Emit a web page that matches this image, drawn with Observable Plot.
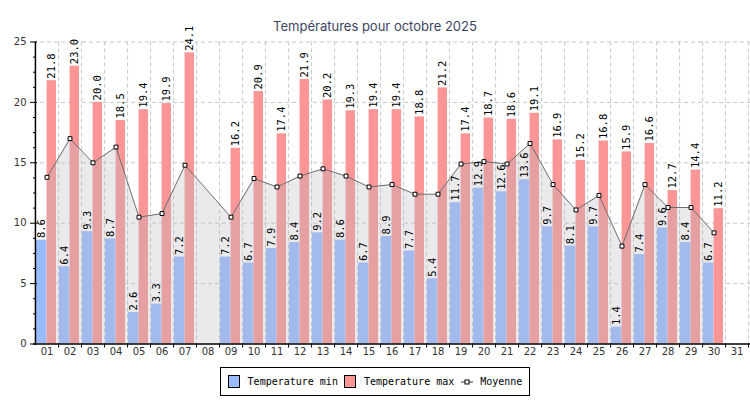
<!DOCTYPE html>
<html><head><meta charset="utf-8">
<script src="https://cdn.jsdelivr.net/npm/d3@7"></script>
<script src="https://cdn.jsdelivr.net/npm/@observablehq/plot@0.6"></script>
<style>
body{margin:0;background:#fff;width:750px;overflow:hidden;}
#title{font-family:Inter,"Noto Sans",sans-serif;font-size:13px;color:#3b4563;text-align:center;padding-top:18px;line-height:16px;height:16px;}
#chart svg{display:block;}
#legendWrap{display:flex;justify-content:center;margin-top:2px;}
#legend{border:1px solid #000;height:27px;display:flex;align-items:center;padding:0 7px;font-family:"DejaVu Sans Mono",monospace;font-size:10px;color:#000;white-space:pre;}
.sw{display:inline-block;width:10px;height:11px;border:1px solid #000;margin-right:8px;}
</style></head><body>
<div id="title">Températures pour octobre 2025</div>
<div id="chart"></div>
<div id="legendWrap"><div id="legend"></div></div>
<script>
const days = ["01","02","03","04","05","06","07","08","09","10","11","12","13","14","15","16","17","18","19","20","21","22","23","24","25","26","27","28","29","30","31"];
const tempMin = [8.6,6.4,9.3,8.7,2.6,3.3,7.2,null,7.2,6.7,7.9,8.4,9.2,8.6,6.7,8.9,7.7,5.4,11.7,12.9,12.6,13.6,9.7,8.1,9.7,1.4,7.4,9.6,8.4,6.7,null];
const tempMax = [21.8,23.0,20.0,18.5,19.4,19.9,24.1,null,16.2,20.9,17.4,21.9,20.2,19.3,19.4,19.4,18.8,21.2,17.4,18.7,18.6,19.1,16.9,15.2,16.8,15.9,16.6,12.7,14.4,11.2,null];
const moyenne = [13.8,17.0,15.0,16.3,10.5,10.8,14.8,null,10.5,13.7,13.0,13.9,14.5,13.9,13.0,13.2,12.4,12.4,14.9,15.1,14.9,16.6,13.2,11.1,12.3,8.1,13.2,11.3,11.3,9.2,null];
const yMajorTicks = [0,5,10,15,20,25];
const yMinorTicks = [1.25,2.5,3.75,6.25,7.5,8.75,11.25,12.5,13.75,16.25,17.5,18.75,21.25,22.5,23.75];
const seriesNames = ["Temperature min","Temperature max","Moyenne"];
const colMin = "#99bbff", colMax = "#fa9696";

const rows = days.map((d,i)=>({day:d, min:tempMin[i], max:tempMax[i], mean:moyenne[i]}));
const W = 750, ML = 33, MR = 0;
const bw = (W-ML-MR)/days.length;
const hasMin = d => d.min != null, hasMax = d => d.max != null, hasMean = d => d.mean != null;
const fmt = v => v == null ? null : v.toFixed(1);
const mono = "DejaVu Sans Mono";
const grid = {stroke:"#c8c8c8", strokeOpacity:1, strokeDasharray:"4,3"};

const chart = Plot.plot({
  width: W, height: 331, marginTop: 7.5, marginBottom: 21.5, marginLeft: ML, marginRight: MR,
  style: {overflow:"visible", fontFamily:"DejaVu Sans", fontSize:"10px", background:"white"},
  x: {type:"band", domain: days, padding: 0, label: null},
  y: {domain:[0,25], label: null},
  marks: [
    Plot.gridY(yMajorTicks.slice(1), grid),
    Plot.gridX(days, {...grid, dx: bw/2}),
    Plot.barY(rows, {filter: hasMin, x:"day", y:"min", fill: colMin, insetLeft: 1, insetRight: bw/2}),
    Plot.barY(rows, {filter: hasMax, x:"day", y:"max", fill: colMax, insetLeft: bw/2, insetRight: 2}),
    Plot.areaY(rows, {filter: hasMean, x:"day", y:"mean", fill:"#b8b8c0", fillOpacity:0.3}),
    Plot.lineY(rows, {filter: hasMean, x:"day", y:"mean", stroke:"#6e6e6e", strokeWidth:1}),
    Plot.dot(rows, {filter: hasMean, x:"day", y:"mean", symbol:"square", r:2.2, fill:"white", stroke:"black", strokeWidth:1}),
    Plot.text(rows, {filter: hasMin, x:"day", y:"min", text: d=>fmt(d.min), rotate:-90, textAnchor:"start", lineAnchor:"middle", dx: -(bw/2-1)/2, dy:-2, fontFamily: mono, fontSize: 10.5, fill:"#000"}),
    Plot.text(rows, {filter: hasMax, x:"day", y:"max", text: d=>fmt(d.max), rotate:-90, textAnchor:"start", lineAnchor:"middle", dx: (bw/2-2)/2, dy:-2, fontFamily: mono, fontSize: 10.5, fill:"#000"}),
    Plot.ruleY([0], {stroke:"#000", strokeWidth:1.5}),
    Plot.ruleX(days.slice(0,1), {dx: -bw/2, stroke:"#000", strokeWidth:1.5}),
    Plot.axisY(yMajorTicks, {tickSize:3, tickPadding:4, stroke:"#000", fill:"#333"}),
    Plot.axisY(yMajorTicks, {tickSize:-4, tickFormat: () => "", stroke:"#000"}),
    Plot.axisY(yMinorTicks, {tickSize:-3, tickFormat: () => "", stroke:"#000"}),
    Plot.axisX(days, {tickSize:0, tickPadding:4, fill:"#333"}),
    Plot.axisX(days, {tickSize:4, dx: bw/2, tickFormat: () => "", stroke:"#000"})
  ]
});
document.getElementById("chart").append(chart);

const lg = document.getElementById("legend");
lg.innerHTML =
  `<span class="sw" style="background:${colMin}"></span>${seriesNames[0]} ` +
  `<span class="sw" style="background:${colMax}"></span>${seriesNames[1]} ` +
  `<svg width="14" height="10" style="margin:0 6px 0 0"><line x1="1" x2="13" y1="5" y2="5" stroke="#333"/><rect x="5" y="3" width="4" height="4" fill="white" stroke="#000"/></svg>${seriesNames[2]}`;
</script>
</body></html>
